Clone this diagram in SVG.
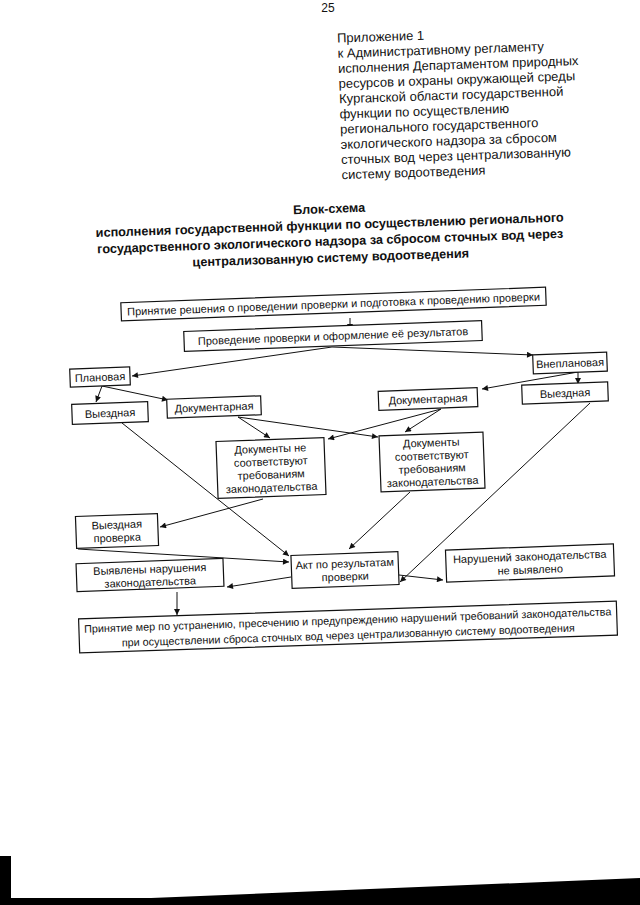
<svg xmlns="http://www.w3.org/2000/svg" width="640" height="905" viewBox="0 0 640 905">
<style>
text{font-family:"Liberation Sans",Arial,sans-serif;fill:#111}
.hd{font-size:13px}
.bt{font-size:12.7px;font-weight:bold;text-anchor:middle}
.nd rect{fill:#fff;stroke:#111;stroke-width:1.2}
.nd text{font-size:11px;text-anchor:middle}
.big text{font-size:10.8px}
.cn line{stroke:#111;stroke-width:1;marker-end:url(#ah)}
</style>
<defs>
<marker id="ah" viewBox="0 0 10 10" refX="10" refY="5" markerUnits="userSpaceOnUse" markerWidth="7" markerHeight="6" orient="auto">
<path d="M0,0 L10,5 L0,10 z" fill="#111"/>
</marker>
</defs>
<rect width="640" height="905" fill="#fff"/>
<text x="328" y="12" font-size="12" text-anchor="middle">25</text>
<g id="appendix" transform="rotate(-1.9 340 110)">
<text class="hd" x="339.5" y="42.5">Приложение 1</text>
<text class="hd" x="339.5" y="57.7">к Административному регламенту</text>
<text class="hd" x="339.5" y="72.9">исполнения Департаментом природных</text>
<text class="hd" x="339.5" y="88.1">ресурсов и охраны окружающей среды</text>
<text class="hd" x="339.5" y="103.3">Курганской области государственной</text>
<text class="hd" x="339.5" y="118.5">функции по осуществлению</text>
<text class="hd" x="339.5" y="133.7">регионального государственного</text>
<text class="hd" x="339.5" y="148.9">экологического надзора за сбросом</text>
<text class="hd" x="339.5" y="164.1">сточных вод через централизованную</text>
<text class="hd" x="339.5" y="179.3">систему водоотведения</text>
</g>
<g id="title" transform="rotate(-1.9 330 235)">
<text class="bt" x="330" y="213">Блок-схема</text>
<text class="bt" x="330" y="229.3">исполнения государственной функции по осуществлению регионального</text>
<text class="bt" x="330" y="245.6">государственного экологического надзора за сбросом сточных вод через</text>
<text class="bt" x="330" y="262">централизованную систему водоотведения</text>
</g>
<g id="connectors" class="cn">
<line x1="350" y1="318" x2="350" y2="330"/>
<line x1="332" y1="347" x2="132" y2="376"/>
<line x1="332" y1="347" x2="533" y2="355"/>
<line x1="102" y1="386" x2="96" y2="402"/>
<line x1="102" y1="386" x2="168" y2="400"/>
<line x1="578" y1="372" x2="578" y2="384"/>
<line x1="578" y1="372" x2="482" y2="389"/>
<line x1="238" y1="417" x2="270" y2="438"/>
<line x1="238" y1="417" x2="378" y2="437"/>
<line x1="441" y1="409" x2="328" y2="439"/>
<line x1="441" y1="409" x2="405" y2="432"/>
<line x1="122" y1="423" x2="289" y2="556"/>
<line x1="263" y1="499" x2="160" y2="527"/>
<line x1="78" y1="549" x2="289" y2="562"/>
<line x1="410" y1="492" x2="349" y2="549"/>
<line x1="590" y1="403" x2="400" y2="582"/>
<line x1="291" y1="577" x2="227" y2="587"/>
<line x1="399" y1="575" x2="443" y2="580"/>
<line x1="177" y1="592" x2="177" y2="615"/>
</g>
<g id="n-decision" class="nd" transform="rotate(-2.1 333.5 304)">
<rect x="121" y="295" width="425" height="18"/>
<text x="333.5" y="308">Принятие решения о проведении проверки и подготовка к проведению проверки</text>
</g>
<g id="n-conduct" class="nd" transform="rotate(-2.1 333 336)">
<rect x="184" y="326" width="298" height="20"/>
<text x="333" y="340">Проведение проверки и оформление её результатов</text>
</g>
<g id="n-planned" class="nd" transform="rotate(-2.1 100 377)">
<rect x="70" y="368" width="60" height="18"/>
<text x="100" y="381">Плановая</text>
</g>
<g id="n-unplanned" class="nd" transform="rotate(-2.1 570 363)">
<rect x="533" y="353.5" width="74" height="19"/>
<text x="570" y="367">Внеплановая</text>
</g>
<g id="n-field-l" class="nd" transform="rotate(-2.1 110 413)">
<rect x="72" y="403" width="76" height="20"/>
<text x="110" y="417">Выездная</text>
</g>
<g id="n-doc-l" class="nd" transform="rotate(-2.1 214 407)">
<rect x="167" y="397.5" width="94" height="19"/>
<text x="214" y="411">Документарная</text>
</g>
<g id="n-doc-r" class="nd" transform="rotate(-2.1 428 399)">
<rect x="378.5" y="389.5" width="99" height="19"/>
<text x="428" y="403">Документарная</text>
</g>
<g id="n-field-r" class="nd" transform="rotate(-2.1 565 393)">
<rect x="522" y="383.5" width="86" height="19"/>
<text x="565" y="397">Выездная</text>
</g>
<g id="n-docs-bad" class="nd" transform="rotate(-2.1 271 468)">
<rect x="217" y="439.5" width="108" height="57"/>
<text x="271" y="452.5">Документы не</text>
<text x="271" y="465.5">соответствуют</text>
<text x="271" y="478.5">требованиям</text>
<text x="271" y="491.5">законодательства</text>
</g>
<g id="n-docs-ok" class="nd" transform="rotate(-2.1 432 462)">
<rect x="380" y="434" width="104" height="56"/>
<text x="432" y="446.5">Документы</text>
<text x="432" y="459.5">соответствуют</text>
<text x="432" y="472.5">требованиям</text>
<text x="432" y="485.5">законодательства</text>
</g>
<g id="n-field-check" class="nd" transform="rotate(-2.1 117 531)">
<rect x="76" y="515" width="82" height="32"/>
<text x="117" y="528.5">Выездная</text>
<text x="117" y="541.5">проверка</text>
</g>
<g id="n-act" class="nd" transform="rotate(-2.1 345 570)">
<rect x="291.5" y="553.5" width="107" height="33"/>
<text x="345" y="567.5">Акт по результатам</text>
<text x="345" y="580.5">проверки</text>
</g>
<g id="n-violations" class="nd" transform="rotate(-2.1 150 575)">
<rect x="76.5" y="561" width="147" height="28"/>
<text x="150" y="573">Выявлены нарушения</text>
<text x="150" y="586">законодательства</text>
</g>
<g id="n-no-violations" class="nd" transform="rotate(-2.1 530 563)">
<rect x="446" y="547" width="168" height="32"/>
<text x="530" y="560.5">Нарушений законодательства</text>
<text x="530" y="573.5">не выявлено</text>
</g>
<g id="n-measures" class="nd big" transform="rotate(-1.9 348 627)">
<rect x="79" y="610" width="538" height="34"/>
<text x="348" y="624">Принятие мер по устранению, пресечению и предупреждению нарушений требований законодательства</text>
<text x="348" y="639">при осуществлении сброса сточных вод через централизованную систему водоотведения</text>
</g>
<polygon points="0,856 11,856 11,898 151,898 640,878 640,905 0,905" fill="#000"/>
</svg>
